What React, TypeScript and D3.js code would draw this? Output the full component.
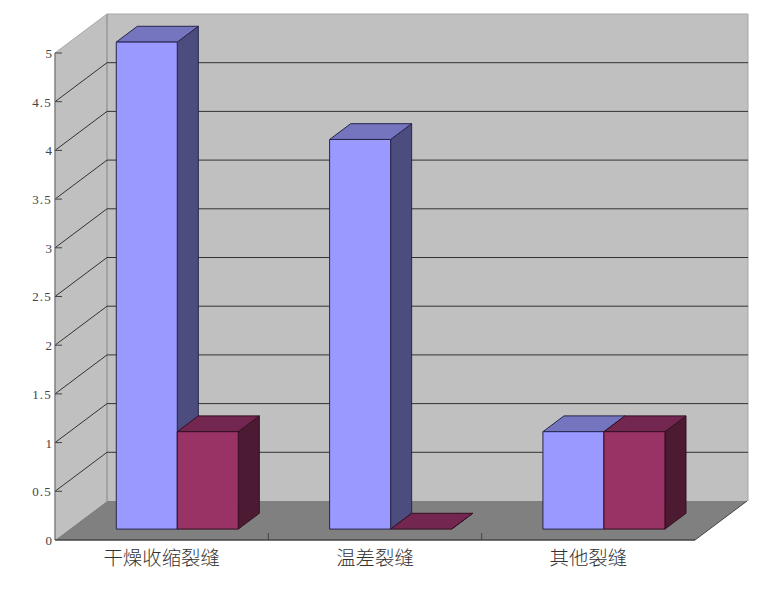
import React from "react";
import * as d3 from "d3";

const categories = ["干燥收缩裂缝", "温差裂缝", "其他裂缝"];
const seriesA = [5, 4, 1];
const seriesB = [1, 0, 1];
const tickValues = [0, 0.5, 1, 1.5, 2, 2.5, 3, 3.5, 4, 4.5, 5];

const seriesList = [
  { values: seriesA, front: "#9999ff", top: "#7474bf", side: "#4c4c7f", edge: "#26264d" },
  { values: seriesB, front: "#993366", top: "#732650", side: "#4c1a33", edge: "#330f22" },
];

const LEFT = 55, RIGHT = 695, FLOOR = 540, TOP = 53;
const DX = 52, DY = 39;
const BAR_DEPTH_START = 0.3, BAR_DEPTH_FRAC = 0.405;

const y = d3.scaleLinear().domain([0, 5]).range([FLOOR, TOP]);
const x0 = d3.scaleBand<string>().domain(categories).range([LEFT, RIGHT]);
const BAR_W = 61;

const pts = (p: number[][]) => p.map((q) => q.join(",")).join(" ");

export default function App() {
  const bx = DX * BAR_DEPTH_START;
  const by = DY * 0.28;
  const ddx = DX * BAR_DEPTH_FRAC;
  const ddy = DY * BAR_DEPTH_FRAC;
  return (
    <svg width={780} height={596} style={{ position: "absolute", left: 0, top: 0, background: "#fff" }}>
      {/* walls */}
      <polygon points={pts([[LEFT, TOP], [LEFT + DX, TOP - DY], [LEFT + DX, FLOOR - DY], [LEFT, FLOOR]])} fill="#c0c0c0" />
      <rect x={LEFT + DX} y={TOP - DY} width={RIGHT - LEFT + 1} height={FLOOR - TOP} fill="#c0c0c0" />
      <polygon points={pts([[LEFT, FLOOR], [LEFT + DX, FLOOR - DY], [RIGHT + DX, FLOOR - DY], [RIGHT, FLOOR]])} fill="#808080" />
      {/* wall edges */}
      <path
        d={`M${LEFT},${TOP}L${LEFT + DX},${TOP - DY}H${RIGHT + DX + 1}V${FLOOR - DY}`}
        fill="none" stroke="#a6a6a6" strokeWidth={1}
      />
      <line x1={LEFT + DX} x2={LEFT + DX} y1={TOP - DY} y2={FLOOR - DY} stroke="#999" strokeWidth={1.5} />
      {/* gridlines */}
      {tickValues.filter((v) => v > 0 && v < 5).map((v) => (
        <g key={v} stroke="#333" strokeWidth={1} fill="none">
          <line x1={LEFT} y1={y(v)} x2={LEFT + DX} y2={y(v) - DY} />
          <line x1={LEFT + DX} y1={y(v) - DY} x2={RIGHT + DX + 1} y2={y(v) - DY} />
        </g>
      ))}
      {/* axes */}
      <line x1={LEFT} x2={LEFT} y1={TOP} y2={FLOOR} stroke="#808080" strokeWidth={1.5} />
      <line x1={LEFT} x2={RIGHT} y1={FLOOR} y2={FLOOR} stroke="#444" strokeWidth={1.5} />
      <line x1={RIGHT} y1={FLOOR} x2={RIGHT + DX} y2={FLOOR - DY} stroke="#444" strokeWidth={1} />
      {tickValues.map((v) => (
        <g key={v}>
          {v > 0 && <line x1={LEFT} x2={LEFT + 7} y1={y(v)} y2={y(v)} stroke="#444" strokeWidth={1} />}
          <text
            x={LEFT - 3} y={y(v) + 2} textAnchor="end" dominantBaseline="middle"
            fontFamily="'Liberation Serif', serif" fontSize={13} letterSpacing={v % 1 ? 1.2 : 0} fill="#444"
          >
            {String(v)}
          </text>
        </g>
      ))}
      {categories.slice(1).map((c) => (
        <line key={c} x1={x0(c)!} x2={x0(c)!} y1={FLOOR - 7} y2={FLOOR} stroke="#444" strokeWidth={1} />
      ))}
      {/* bars */}
      {categories.map((c, i) => {
        const start = x0(c)! + (x0.bandwidth() - BAR_W * seriesList.length) / 2 + bx;
        return (
          <g key={c}>
            {seriesList.map((s, j) => {
              const v = s.values[i];
              const l = start + j * BAR_W;
              const r = l + BAR_W;
              const t = y(v) - by;
              const b = FLOOR - by;
              return (
                <g key={j} stroke={s.edge} strokeWidth={1} strokeLinejoin="round">
                  <polygon points={pts([[r, t], [r + ddx, t - ddy], [r + ddx, b - ddy], [r, b]])} fill={s.side} />
                  <polygon points={pts([[l, t], [l + ddx, t - ddy], [r + ddx, t - ddy], [r, t]])} fill={s.top} />
                  {v > 0 && <rect x={l} y={t} width={BAR_W} height={b - t} fill={s.front} />}
                </g>
              );
            })}
          </g>
        );
      })}
      {/* category labels */}
      {categories.map((c) => (
        <text
          key={c} x={x0(c)! + x0.bandwidth() / 2} y={560} textAnchor="middle" dominantBaseline="middle"
          fontFamily="'Noto Sans CJK SC', sans-serif" fontWeight={300} fontSize={19.4} fill="#333"
        >
          {c}
        </text>
      ))}
    </svg>
  );
}
